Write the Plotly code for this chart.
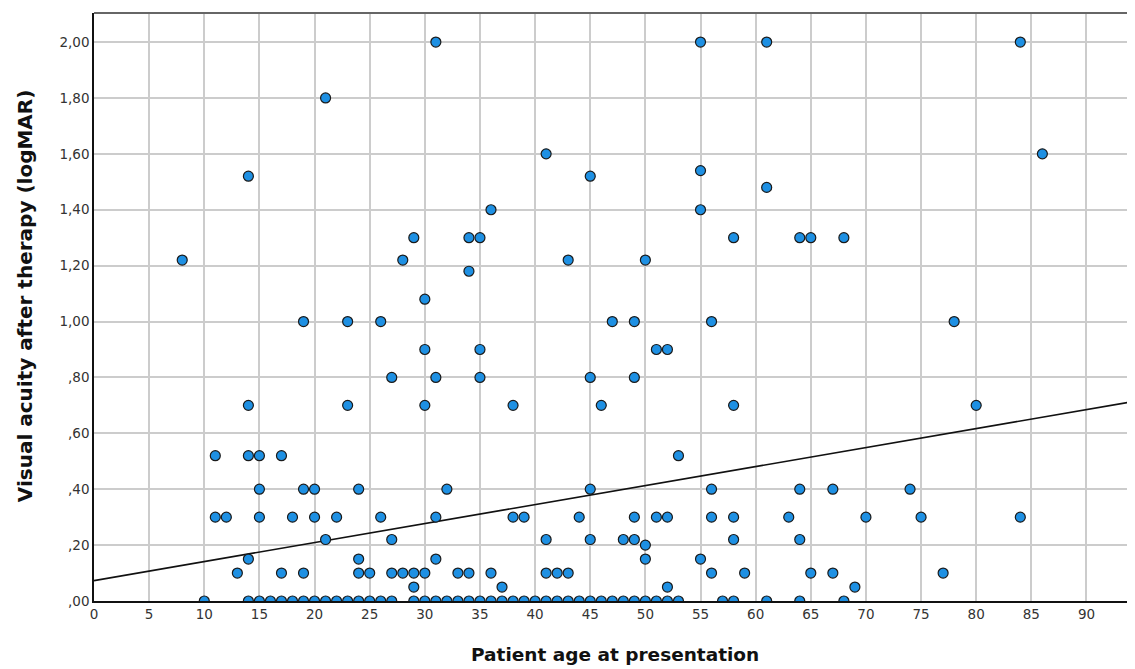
import numpy as np
import plotly.graph_objects as go

# ---- data (age, logMAR) ----
age_000 = [10,14,15,16,17,18,19,20,21,22,23,24,25,26,27,29,30,31,32,33,34,35,36,37,38,39,40,
           41,42,43,44,45,46,47,48,49,50,51,52,53,57,58,61,64,68]
age_005 = [29,37,52,69]
age_010 = [13,17,19,24,25,27,28,29,30,33,34,36,41,42,43,56,59,65,67,77]
age_015 = [14,24,31,50,55]
age_020 = [50]
age_022 = [21,27,41,45,48,49,58,64]
age_030 = [11,12,15,18,20,22,26,31,38,39,44,49,51,52,56,58,63,70,75,84]
age_040 = [15,19,20,24,32,45,56,64,67,74]
age_052 = [11,14,15,17,53]
age_070 = [14,23,30,38,46,58,80]
age_080 = [27,31,35,45,49]
age_090 = [30,35,51,52]
age_100 = [19,23,26,47,49,56,78]
age_108 = [30]
age_118 = [34]
age_122 = [8,28,43,50]
age_130 = [29,34,35,58,64,65,68]
age_140 = [36,55]
age_148 = [61]
age_152 = [14,45]
age_154 = [55]
age_160 = [41,86]
age_180 = [21]
age_200 = [31,55,61,84]

groups = [
    (0.00, age_000), (0.05, age_005), (0.10, age_010), (0.15, age_015), (0.20, age_020),
    (0.22, age_022), (0.30, age_030), (0.40, age_040), (0.52, age_052), (0.70, age_070),
    (0.80, age_080), (0.90, age_090), (1.00, age_100), (1.08, age_108), (1.18, age_118),
    (1.22, age_122), (1.30, age_130), (1.40, age_140), (1.48, age_148), (1.52, age_152),
    (1.54, age_154), (1.60, age_160), (1.80, age_180), (2.00, age_200),
]

ages = []
acuity = []
for val, lst in groups:
    ages += lst
    acuity += [val] * len(lst)

# fit line
fit_intercept = 0.073
fit_slope = 0.0068

x_ticks = list(range(0, 95, 5))
y_ticks = [0.0, 0.2, 0.4, 0.6, 0.8, 1.0, 1.2, 1.4, 1.6, 1.8, 2.0]
y_ticktext = [",00", ",20", ",40", ",60", ",80", "1,00", "1,20", "1,40", "1,60", "1,80", "2,00"]

x_title = "Patient age at presentation"
y_title = "Visual acuity after therapy (logMAR)"

x_max = 94.4
y_max = 2.104

fig = go.Figure()

xl = np.array([0, x_max])
fig.add_trace(go.Scatter(
    x=xl, y=fit_intercept + fit_slope * xl, mode="lines",
    line=dict(color="#111111", width=1.6), hoverinfo="skip", showlegend=False))

fig.add_trace(go.Scatter(
    x=ages, y=acuity, mode="markers",
    marker=dict(size=10, color="#1e90e3", line=dict(color="#1a1a1a", width=1.2)),
    showlegend=False))

title_font = dict(family="DejaVu Sans", color="#111111")

fig.update_layout(
    width=1127, height=661,
    margin=dict(l=86, r=0, t=5, b=68),
    paper_bgcolor="white", plot_bgcolor="white",
    font=dict(family="DejaVu Sans", size=13.5, color="#333333"),
    xaxis=dict(
        range=[0, x_max], tickvals=x_ticks, ticktext=[str(t) for t in x_ticks],
        showgrid=True, gridcolor="#cccccc", gridwidth=1.5,
        showline=True, linecolor="#111111", linewidth=1.5,
        zeroline=False, ticks="", ticklen=0,
    ),
    yaxis=dict(
        range=[0, y_max], tickvals=y_ticks, ticktext=y_ticktext,
        showgrid=True, gridcolor="#cccccc", gridwidth=1.5,
        showline=True, linecolor="#111111", linewidth=1.5,
        zeroline=False, ticks="", ticklen=0,
    ),
    shapes=[dict(type="line", xref="paper", yref="paper", x0=0, x1=1, y0=1, y1=1,
                 line=dict(color="#666666", width=2))],
    annotations=[
        dict(text="<b>" + x_title + "</b>", xref="paper", yref="paper",
             x=0.5, y=-0.0918, xanchor="center", yanchor="middle", showarrow=False,
             font=dict(size=18.5, **title_font)),
        dict(text="<b>" + y_title + "</b>", xref="paper", yref="paper",
             x=-0.0663, y=0.52, xanchor="center", yanchor="middle", showarrow=False,
             textangle=-90, font=dict(size=20, **title_font)),
    ],
)

fig.write_html("out.html")
